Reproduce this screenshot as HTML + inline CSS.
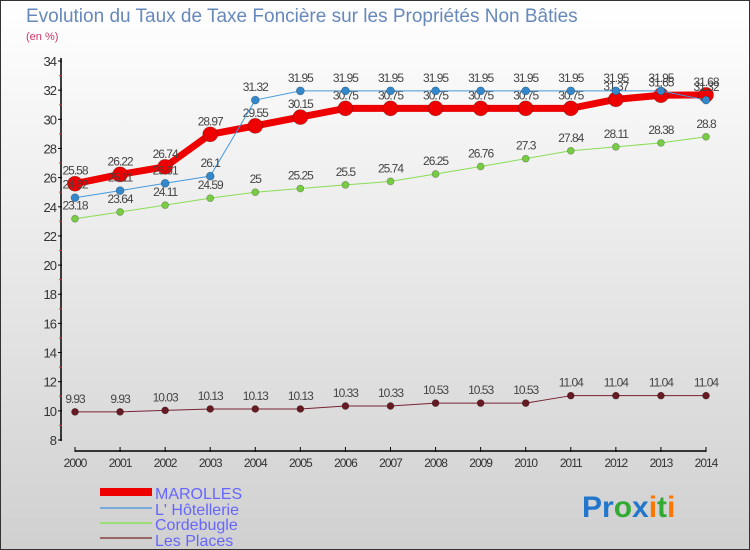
<!DOCTYPE html>
<html><head><meta charset="utf-8"><style>
body{margin:0}
#c{width:750px;height:550px;position:relative;overflow:hidden;font-family:"Liberation Sans",sans-serif;background:linear-gradient(#ffffff,#d0d0d0);box-sizing:border-box;border:1px solid #333}
</style></head><body>
<div id="c">
<svg id="s" width="750" height="550" style="position:absolute;left:-1px;top:-1px">
<text x="26" y="22" font-size="19" fill="#6688bb">Evolution du Taux de Taxe Foncière sur les Propriétés Non Bâties</text>
<text x="26" y="40" font-size="11" fill="#cc3366">(en %)</text>
<g id="axes"></g><g id="series"></g>
<g>
<rect x="100" y="488" width="52" height="8" fill="#ee0000"/>
<text x="155" y="499" font-size="16" fill="#6666ff">MAROLLES</text>
<rect x="100" y="507" width="52" height="2" fill="#77aadd"/>
<text x="155" y="515" font-size="16" fill="#6666ff">L' Hôtellerie</text>
<rect x="100" y="522" width="52" height="2" fill="#99dd77"/>
<text x="155" y="530" font-size="16" fill="#6666ff">Cordebugle</text>
<rect x="100" y="537" width="52" height="2" fill="#996666"/>
<text x="155" y="546" font-size="16" fill="#6666ff">Les Places</text>
</g>
<text x="582" y="517" font-size="30" font-weight="bold"><tspan fill="#2277cc">Pr</tspan><tspan fill="#33aa33">o</tspan><tspan fill="#2277cc">x</tspan><tspan fill="#ff7700">i</tspan><tspan fill="#33aa33">t</tspan><tspan fill="#ff7700">i</tspan></text>
</svg>
</div>
<script>
const years=[2000,2001,2002,2003,2004,2005,2006,2007,2008,2009,2010,2011,2012,2013,2014];
const yTicks=[8,10,12,14,16,18,20,22,24,26,28,30,32,34];
const marolles=[25.58,26.22,26.74,28.97,29.55,30.15,30.75,30.75,30.75,30.75,30.75,30.75,31.37,31.65,31.68];
const hotellerie=[24.62,25.11,25.61,26.1,31.32,31.95,31.95,31.95,31.95,31.95,31.95,31.95,31.95,31.95,31.32];
const cordebugle=[23.18,23.64,24.11,24.59,25,25.25,25.5,25.74,26.25,26.76,27.3,27.84,28.11,28.38,28.8];
const lesPlaces=[9.93,9.93,10.03,10.13,10.13,10.13,10.33,10.33,10.53,10.53,10.53,11.04,11.04,11.04,11.04];
const NS="http://www.w3.org/2000/svg";
function X(i){return 75+i*(706-75)/(years.length-1);}
function Y(v){return 440-(v-8)*(440-61)/26;}
function mk(t,a,p){const e=document.createElementNS(NS,t);for(const k in a)e.setAttribute(k,a[k]);p.appendChild(e);return e;}
const ax=document.getElementById('axes');
let l=mk('line',{x1:61,y1:58,x2:61,y2:441,stroke:'#000','stroke-width':1.5},ax);


l=mk('line',{x1:75,y1:451,x2:706,y2:451,stroke:'#000','stroke-width':1.5},ax);


yTicks.forEach(v=>{
 mk('line',{x1:58,y1:Y(v),x2:62,y2:Y(v),stroke:'#000'},ax);
 if(v<34)mk('line',{x1:59,y1:Y(v+1),x2:62,y2:Y(v+1),stroke:'#e03030'},ax);
 const t=mk('text',{x:56,y:Y(v)+5,'font-size':13,'text-anchor':'end',fill:'#333','letter-spacing':'-1'},ax);
 t.textContent=v;
 
 
});
years.forEach((yr,i)=>{
 mk('line',{x1:X(i),y1:447,x2:X(i),y2:452,stroke:'#000'},ax);
 const t=mk('text',{x:X(i),y:467,'font-size':12,'text-anchor':'middle',fill:'#333','letter-spacing':'-1'},ax);
 t.textContent=yr;
 
 
});
const sg=document.getElementById('series');
function series(name,data,color,w,r,dot){
 const g=mk('g',{},sg);
 
 
 const pl=mk('polyline',{points:data.map((v,i)=>X(i)+','+Y(v)).join(' '),fill:'none',stroke:color,'stroke-width':w,'stroke-linejoin':'round'},g);
 
 
 data.forEach((v,i)=>{
  const c=mk('circle',{cx:X(i),cy:Y(v),r:r,fill:dot,stroke:'rgba(0,0,0,0.3)','stroke-width':0.7},g);
  
  
  const t=mk('text',{x:X(i),y:Y(v)-9,'font-size':12,'text-anchor':'middle',fill:'#444','letter-spacing':'-1'},g);
  t.textContent=v;
  
  
 });
}
series('les-places',lesPlaces,'#772233',1,3.5,'#661a22');
series('cordebugle',cordebugle,'#88dd55',1,3.5,'#77cc44');
series('marolles',marolles,'#ee0000',7,7.5,'#ee0000');
series('hotellerie',hotellerie,'#4499dd',1,4,'#3388cc');
</script>
</body></html>
